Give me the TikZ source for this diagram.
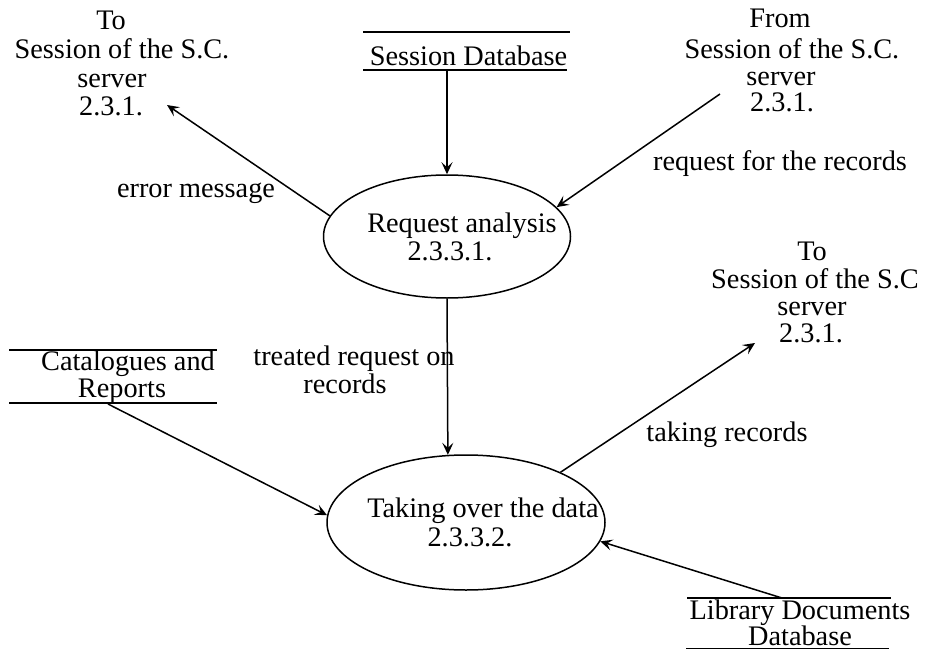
\documentclass[tikz,border=0pt]{standalone}
\usepackage{fontspec}
\setmainfont{Liberation Serif}
\usetikzlibrary{arrows.meta,shapes.geometric}
\begin{document}
\begin{tikzpicture}[x=1pt,y=-1pt,
  txt/.style={anchor=base, inner sep=0pt, font=\fontsize{28.3}{30}\selectfont},
  proc/.style={draw, ellipse, line width=1.5pt, inner sep=0pt},
  flow/.style={-{Stealth[length=12pt,width=11pt,inset=5pt]}, line width=1.5pt},
  storeline/.style={line width=1.5pt}]
\useasboundingbox (0,0) rectangle (934,650);

% processes
\node[proc, minimum width=247pt, minimum height=123pt] (e1) at (447,236.5) {};
\node[proc, minimum width=278pt, minimum height=135pt] (e2) at (466,522.5) {};
\node[txt] (e1a) at (462,232) {Request analysis};
\node[txt] (e1b) at (450,260) {2.3.3.1.};
\node[txt] (e2a) at (483,517) {Taking over the data};
\node[txt] (e2b) at (470,546) {2.3.3.2.};

% top-left external
\node[txt] (tl1) at (111,30) {To};
\node[txt] (tl2) at (122,59) {Session of the S.C.};
\node[txt] (tl3) at (112,88) {server};
\node[txt] (tl4) at (111,116) {2.3.1.};

% top-right external
\node[txt] (tr1) at (780,28) {From};
\node[txt] (tr2) at (792,59) {Session of the S.C.};
\node[txt] (tr3) at (781,86) {server};
\node[txt] (tr4) at (782,112) {2.3.1.};

% right external
\node[txt] (rr1) at (812,260) {To};
\node[txt] (rr2) at (815,288) {Session of the S.C};
\node[txt] (rr3) at (812,315) {server};
\node[txt] (rr4) at (811,342) {2.3.1.};

% stores
\node[txt] (sd) at (468.5,66) {Session Database};
\draw[storeline] (363,32) -- (570,32) (363,70) -- (567,70);
\node[txt] (cat1) at (128,370) {Catalogues and};
\node[txt] (cat2) at (122,397) {Reports};
\draw[storeline] (9,350) -- (217,350) (9,403) -- (217,403);
\node[txt, align=center, font=\fontsize{28.3}{26}\selectfont] (lib) at (800,645) {Library Documents\\Database};
\draw[storeline] (687,598) -- (891,598) (686,648.5) -- (889,648.5);

% flow labels
\node[txt] (l1) at (196,197) {error message};
\node[txt] (l2) at (780,170) {request for the records};
\node[txt] (l3) at (354,365) {treated request on};
\node[txt] (l3b) at (345,393) {records};
\node[txt] (l4) at (727,441) {taking records};

% connector ends
\coordinate (errtip) at (167,105);
\coordinate (reqtail) at (720,94);
\coordinate (sdout) at (447,70);
\coordinate (catout) at (108,404);
\coordinate (rectip) at (755,343);
\coordinate (libout) at (782,598);

% flows
\draw[flow] (e1.170) -- (errtip);
\draw[flow] (sdout) -- (e1.north);
\draw[flow] (reqtail) -- (e1.15);
\draw[flow] (e1.south) -- (e2.105);
\draw[flow] (catout) -- (e2.177);
\draw[flow] (e2.28) -- (rectip);
\draw[flow] (libout) -- (e2.-8);
\end{tikzpicture}
\end{document}
